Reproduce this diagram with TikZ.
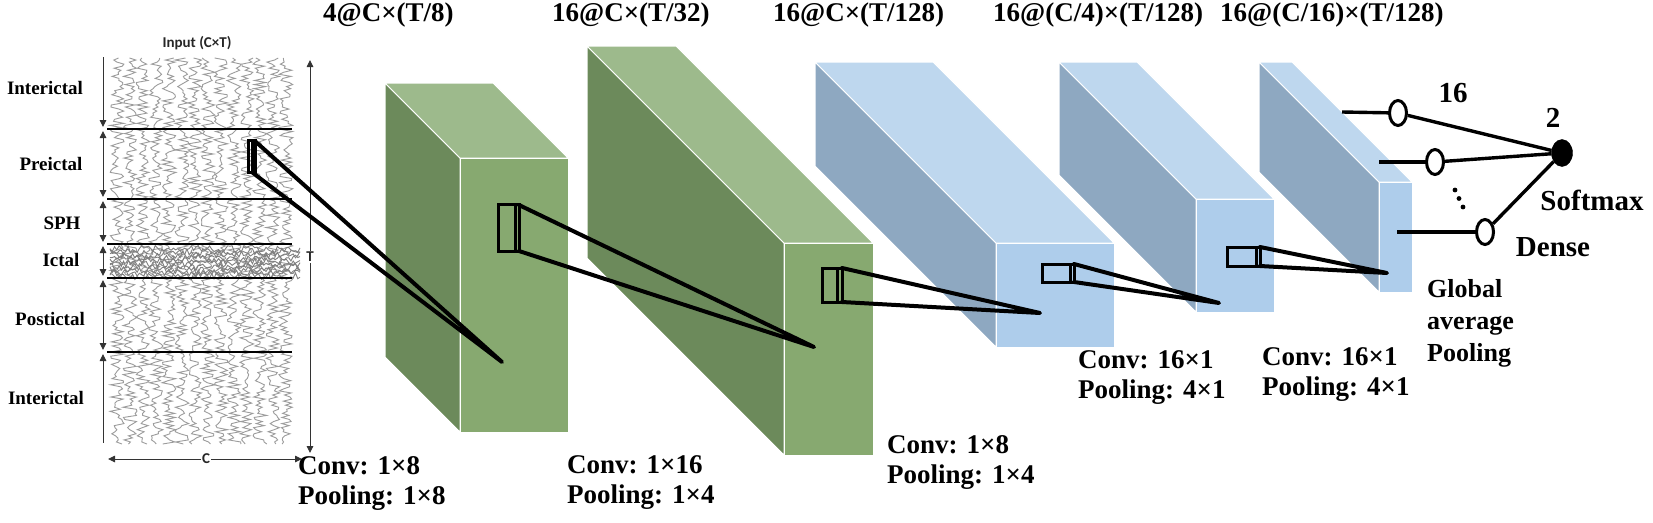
\documentclass[tikz,border=0pt]{standalone}
\usepackage{fontspec}
\setmainfont{Liberation Serif}
\newfontfamily\inpfont{Carlito}
\usetikzlibrary{arrows.meta,shapes.geometric}
\definecolor{gtop}{HTML}{9DBA8C}
\definecolor{gleft}{HTML}{6C8A5B}
\definecolor{gfront}{HTML}{87A970}
\definecolor{btop}{HTML}{BED7EE}
\definecolor{bleft}{HTML}{8EA8C1}
\definecolor{bfront}{HTML}{AECDEB}
\definecolor{eegc}{HTML}{9C9C9C}
\newcommand\mkblock[8]{%
  \filldraw[#7,draw=white,line width=1pt] (#1-#5,#2-#5) -- (#1,#2) -- (#1,#4) -- (#1-#5,#4-#5) -- cycle;
  \filldraw[#6,draw=white,line width=1pt] (#1-#5,#2-#5) -- (#3-#5,#2-#5) -- (#3,#2) -- (#1,#2) -- cycle;
  \filldraw[#8,draw=white,line width=1pt] (#1,#2) rectangle (#3,#4);}
\newcommand\mkkernel[5]{%
  \draw[kern] (#1,#2) rectangle (#3,#4);
  \draw[kern] (#5,#2) -- (#5,#4);}
\begin{document}
\begin{tikzpicture}[x=1pt,y=-1pt,
  kern/.style={draw=black,line width=3pt},
  fan/.style={draw=black,line width=4pt,line join=round,line cap=round},
  eeg/.style={draw=eegc,line width=0.9pt},
  sep/.style={draw=black,line width=1.8pt},
  dimline/.style={draw=black!80,line width=0.9pt},
  tipd/.style={-{Triangle[length=7pt,width=6.5pt]}},
  tipb/.style={{Triangle[length=7pt,width=6.5pt]}-{Triangle[length=7pt,width=6.5pt]}},
  tips/.style={{Triangle[length=7pt,width=6.5pt]}-},
  toplab/.style={font=\fontsize{27}{30}\selectfont\bfseries,inner sep=0pt,anchor=west},
  oplab/.style={font=\fontsize{27}{30}\selectfont\bfseries,inner sep=0pt,anchor=west,align=left},
  phase/.style={font=\fontsize{19}{20}\selectfont\bfseries,inner sep=0pt},
  smalls/.style={font=\inpfont\fontsize{15}{16}\selectfont\bfseries,inner sep=1pt,text=black!85},
  neuron/.style={ellipse,draw=black,fill=white,line width=3pt,minimum width=17pt,minimum height=25pt,inner sep=0pt},
  outn/.style={ellipse,draw=black,fill=black,minimum width=21pt,minimum height=27pt,inner sep=0pt},
  dline/.style={draw=black,line width=3.4pt},
  netlab/.style={font=\fontsize{29}{32}\selectfont\bfseries,inner sep=0pt}]
\useasboundingbox (0,0) rectangle (1653,522);
\fill[white] (0,0) rectangle (1653,522);

% ---------- EEG input ----------
\pgfmathsetseed{7}
\foreach \cx in {117,130,...,290}{
  \draw[eeg] plot[domain=58:444,samples=190,variable=\t] ({\cx+7*rand},{\t});
}
\foreach \cy in {249,252,...,276}{
  \draw[eeg,draw=black!50] plot[domain=110:300,samples=85,variable=\t] ({\t},{\cy+3.5*rand});
}
\foreach \yy in {129,199,244,278,352}{
  \draw[sep] (107,\yy) -- (292,\yy);
}
% left phase arrows
\draw[dimline,tipd] (103,57) -- (103,127);
\draw[dimline,tipb] (103,131) -- (103,197);
\draw[dimline,tipb] (103,201) -- (103,242);
\draw[dimline,tipb] (103,246) -- (103,276);
\draw[dimline,tipb] (103,280) -- (103,350);
\draw[dimline,tips] (103,354) -- (103,443);

\node[smalls] (inp) at (197,43) {Input (C×T)};
\node[smalls] (tlab) at (310,257) {T};
\node[smalls] (clab) at (206,459) {C};
\draw[dimline,tipd] (tlab.north) -- (310,60);
\draw[dimline,tipd] (tlab.south) -- (310,453);
\draw[dimline,tipd] (clab.west) -- (108,459);
\draw[dimline,tipd] (clab.east) -- (302,459);

\node[phase] (ph1) at (45,88) {Interictal};
\node[phase] (ph2) at (51,164) {Preictal};
\node[phase] (ph3) at (62,223) {SPH};
\node[phase] (ph4) at (61,260) {Ictal};
\node[phase] (ph5) at (50,319) {Postictal};
\node[phase] (ph6) at (46,398) {Interictal};

% ---------- feature-map blocks ----------
\mkblock{1379}{182}{1412}{292}{120}{btop}{bleft}{bfront}
\mkblock{1196}{199}{1274}{312}{137}{btop}{bleft}{bfront}
\mkblock{996}{243}{1114}{347}{181}{btop}{bleft}{bfront}
\mkblock{784}{243}{873}{455}{197}{gtop}{gleft}{gfront}
\mkblock{460}{158}{568}{432}{75}{gtop}{gleft}{gfront}

% ---------- kernels and fans ----------
\mkkernel{248}{140}{255}{172}{252}
\coordinate (k0a) at (256,142);
\coordinate (k0b) at (253,173);
\coordinate (p0) at (502,362);
\draw[fan] (k0a) -- (p0) -- (k0b);

\mkkernel{498}{204}{519}{251}{515}
\coordinate (k1a) at (519,205);
\coordinate (k1b) at (519,251);
\coordinate (p1) at (814,347);
\draw[fan] (k1a) -- (p1) -- (k1b);

\mkkernel{822}{268}{842}{302}{837}
\coordinate (k2a) at (842,268);
\coordinate (k2b) at (842,302);
\coordinate (p2) at (1040,313);
\draw[fan] (k2a) -- (p2) -- (k2b);

\mkkernel{1042}{264}{1074}{282}{1070}
\coordinate (k3a) at (1074,264);
\coordinate (k3b) at (1074,282);
\coordinate (p3) at (1219,303);
\draw[fan] (k3a) -- (p3) -- (k3b);

\mkkernel{1227}{247}{1260}{266}{1256}
\coordinate (k4a) at (1260,247);
\coordinate (k4b) at (1260,266);
\coordinate (p4) at (1387,273);
\draw[fan] (k4a) -- (p4) -- (k4b);

% ---------- dense layer ----------
\coordinate (f1) at (1342,112);
\coordinate (f2) at (1379,162);
\coordinate (f3) at (1397,232);
\node[neuron] (n1) at (1398,113) {};
\node[neuron] (n2) at (1435,162) {};
\node[neuron] (n3) at (1485,232) {};
\node[outn] (out) at (1562,153) {};
\draw[dline] (f1) -- (n1);
\draw[dline] (f2) -- (n2);
\draw[dline] (f3) -- (n3);
\draw[dline] (n1) -- (out);
\draw[dline] (n2) -- (out);
\draw[dline] (n3) -- (out);
\fill (1455,190) circle (2.4);
\fill (1459,198.5) circle (2.4);
\fill (1463,207) circle (2.4);

\node[netlab] (l16) at (1453,93) {16};
\node[netlab] (l2) at (1553,118) {2};
\node[netlab] (lsm) at (1592,200) {Softmax};
\node[netlab] (lde) at (1553,247) {Dense};
\node[oplab,font=\fontsize{26}{32}\selectfont\bfseries] (gap) at (1427,323) {Global\\average\\Pooling};

% ---------- top labels ----------
\node[toplab] (t1) at (323,15) {4@C×(T/8)};
\node[toplab] (t2) at (552,15) {16@C×(T/32)};
\node[toplab] (t3) at (773,15) {16@C×(T/128)};
\node[toplab] (t4) at (993,15) {16@(C/4)×(T/128)};
\node[toplab] (t5) at (1220,15) {16@(C/16)×(T/128)};

% ---------- operation labels ----------
\node[oplab] (o1) at (298,483) {Conv: 1×8\\Pooling: 1×8};
\node[oplab] (o2) at (567,483) {Conv: 1×16\\Pooling: 1×4};
\node[oplab] (o3) at (887,462) {Conv: 1×8\\Pooling: 1×4};
\node[oplab] (o4) at (1078,378) {Conv: 16×1\\Pooling: 4×1};
\node[oplab] (o5) at (1262,375) {Conv: 16×1\\Pooling: 4×1};
\end{tikzpicture}
\end{document}
